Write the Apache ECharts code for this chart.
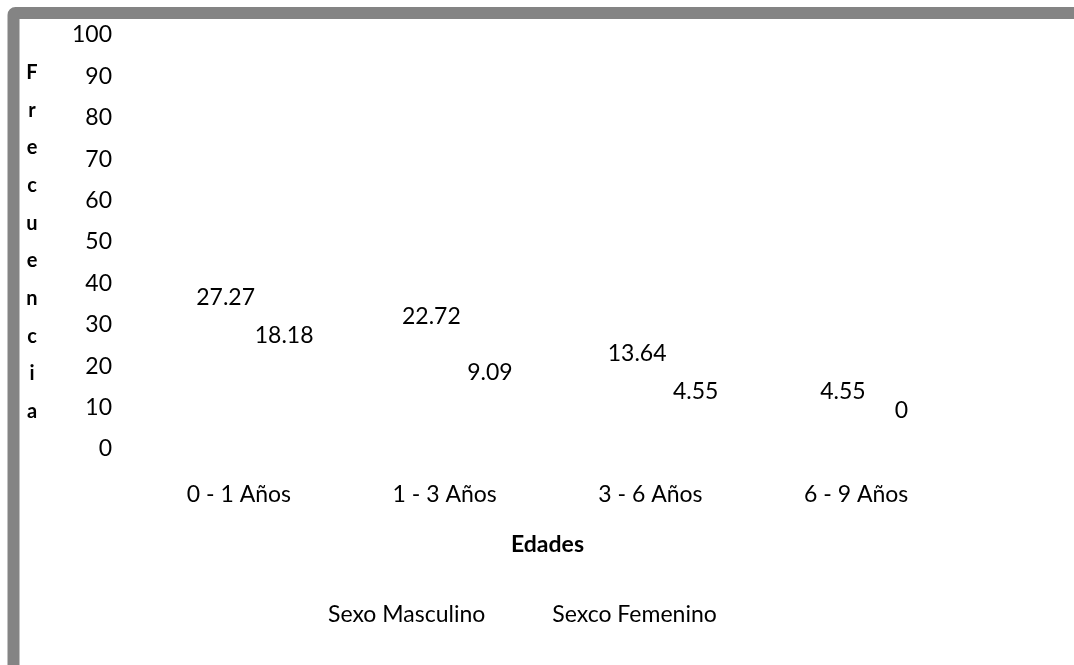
<!DOCTYPE html>
<html>
<head>
<meta charset="utf-8">
<title>Frecuencia por edades</title>
<script src="https://cdn.jsdelivr.net/npm/echarts@6/dist/echarts.min.js"></script>
<style>
  html, body { margin: 0; padding: 0; background: #ffffff; }
  #chart { width: 1074px; height: 665px; }
</style>
</head>
<body>
<div id="chart"></div>
<script>
// Age groups and frequency (%) per sex
const categories = ['0 - 1 Años', '1 - 3 Años', '3 - 6 Años', '6 - 9 Años'];
const masculino = [27.27, 22.72, 13.64, 4.55];
const femenino = [18.18, 9.09, 4.55, 0];
const seriesNames = ['Sexo Masculino', 'Sexco Femenino'];
const yTitle = 'Frecuencia';
const xTitle = 'Edades';

const FONT = 'Lato, "Open Sans", sans-serif';
const TEXT = '#000000';
const SIZE = 23;

const chart = echarts.init(document.getElementById('chart'), null, { renderer: 'canvas' });

// Bars have no fill: only their value labels show
const labelStyle = {
  show: true,
  position: 'top',
  distance: 27,
  fontFamily: FONT,
  fontSize: SIZE,
  color: TEXT
};

chart.setOption({
  backgroundColor: '#ffffff',
  animation: false,
  graphic: [{
    // outer frame, clipped at right and bottom
    type: 'rect',
    silent: true,
    z: 100,
    shape: { x: 13.5, y: 13, width: 1300, height: 900, r: 2 },
    style: { fill: 'none', stroke: '#848484', lineWidth: 12 }
  }],
  grid: { left: 152, right: 99, top: 35, bottom: 216 },
  legend: {
    data: seriesNames,
    left: 304,
    top: 598,
    itemWidth: 14,
    itemHeight: 14,
    itemGap: 48,
    textStyle: { fontFamily: FONT, fontSize: SIZE, color: TEXT }
  },
  xAxis: {
    type: 'category',
    data: categories,
    name: xTitle,
    nameLocation: 'middle',
    nameGap: 96,
    nameTextStyle: {
      fontFamily: FONT, fontSize: SIZE, fontWeight: 'bold', color: TEXT,
      verticalAlign: 'middle', padding: [0, 32, 0, 0]
    },
    axisLine: { show: false },
    axisTick: { show: false },
    axisLabel: {
      margin: 34,
      fontFamily: FONT, fontSize: SIZE, color: TEXT,
      padding: [0, 32, 0, 0]
    }
  },
  yAxis: {
    type: 'value',
    min: 0,
    max: 100,
    interval: 10,
    name: yTitle.split('').join('\n'),
    nameLocation: 'middle',
    nameRotate: 0,
    nameGap: 120,
    nameTextStyle: {
      fontFamily: FONT, fontSize: 20, fontWeight: 'bold', color: TEXT,
      align: 'center', verticalAlign: 'middle', lineHeight: 37.7,
      padding: [16, 0, 0, 0]
    },
    axisLine: { show: false },
    axisTick: { show: false },
    splitLine: { show: false },
    axisLabel: { margin: 40, fontFamily: FONT, fontSize: SIZE, color: TEXT }
  },
  series: [
    {
      name: seriesNames[0],
      type: 'bar',
      data: masculino,
      barWidth: 45,
      barGap: '30%',
      itemStyle: { color: 'transparent' },
      label: labelStyle
    },
    {
      name: seriesNames[1],
      type: 'bar',
      data: femenino,
      barWidth: 45,
      barGap: '30%',
      itemStyle: { color: 'transparent' },
      label: labelStyle
    }
  ]
});
</script>
</body>
</html>
